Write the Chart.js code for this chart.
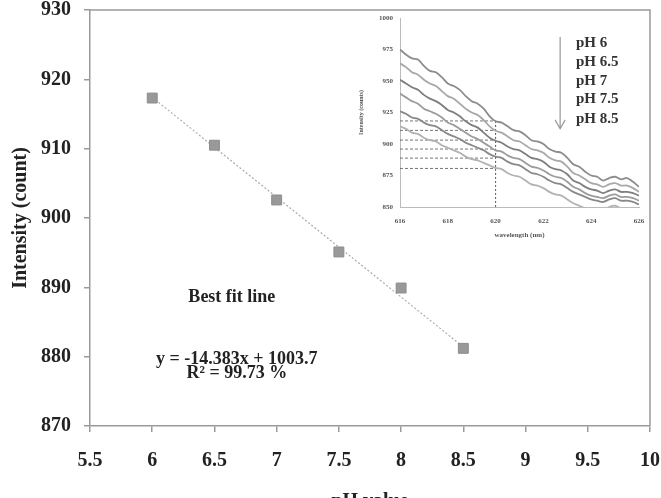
<!DOCTYPE html>
<html>
<head>
<meta charset="utf-8">
<script src="https://cdn.jsdelivr.net/npm/chart.js@4.4.0/dist/chart.umd.min.js"></script>
<style>
html, body { margin: 0; padding: 0; background: #fff; overflow: hidden; }
#wrap { position: relative; width: 661px; height: 498px; overflow: hidden; }
#main { position: absolute; left: 0; top: 0; }
#inset { position: absolute; left: 355px; top: 5px; }
</style>
</head>
<body>
<div id="wrap">
  <canvas id="main" width="661" height="520"></canvas>
  <canvas id="inset" width="292" height="240"></canvas>
</div>
<script>
// main chart: intensity at 620 nm vs pH
var phValues  = [6, 6.5, 7, 7.5, 8, 8.5]
var intensity = [917.3, 910.5, 902.6, 895.1, 889.9, 881.2]
var fitX = [6, 8.5]
var fitY = [917.4, 881.4]

var noteText = ['Best fit line', 'y = -14.383x + 1003.7', 'R\u00b2 = 99.73 %']
var noteX    = [6.64, 6.68, 6.68]
var noteY    = [888.6, 879.6, 877.6]

// inset: spectra around 620 nm
var wavelength = [616, 616.25, 616.5, 616.75, 617, 617.25, 617.5, 617.75, 618, 618.25, 618.5, 618.75,
                  619, 619.25, 619.5, 619.75, 620, 620.25, 620.5, 620.75, 621, 621.25, 621.5, 621.75,
                  622, 622.25, 622.5, 622.75, 623, 623.25, 623.5, 623.75, 624, 624.25, 624.5, 624.75,
                  625, 625.25, 625.5, 625.75, 626]
var spec60 = [975, 971, 968, 967, 962, 958, 957, 953, 948, 946, 943, 938, 934, 932, 928, 922, 918, 917, 914, 911,
              910, 907, 903, 902, 900, 896, 894, 893, 889, 884, 882, 878, 875, 874, 871, 873, 874, 872, 873, 870, 866]
var spec65 = [964, 961, 957, 955, 951, 948, 946, 942, 938, 936, 932, 928, 925, 923, 919, 914, 910.5, 909, 906, 903,
              902, 899, 896, 895, 893, 889, 887, 886, 882, 877, 875, 872, 869, 868, 866, 868, 869, 867, 867, 865, 862]
var spec70 = [951, 948, 945, 943, 939, 936, 934, 931, 927, 925, 922, 918, 915, 913, 909, 905, 902.6, 901, 898, 896,
              895, 892, 889, 888, 886, 882, 880, 879, 876, 871, 869, 866, 864, 863, 861, 863, 864, 862, 862, 861, 859]
var spec75 = [940, 937, 934, 932, 928, 926, 924, 921, 917, 915, 912, 909, 906, 904, 901, 898, 895, 894, 891, 889,
              888, 885, 882, 881, 879, 876, 874, 873, 870, 866, 864, 861, 859, 858, 857, 859, 860, 858, 858, 857, 855]
var spec80 = [926, 924, 921, 920, 917, 915, 914, 911, 908, 906, 904, 901, 899, 897, 895, 892, 890, 889, 886, 884,
              883, 880, 877, 876, 874, 871, 869, 868, 865, 862, 860, 858, 856, 855, 854, 856, 857, 855, 855, 854, 852]
var spec85 = [914, 912, 909, 908, 905, 903, 902, 899, 897, 895, 893, 890, 888, 887, 885, 883, 881, 880, 877, 875,
              874, 871, 868, 867, 865, 862, 860, 859, 856, 853, 851, 849, 848, 847, 847, 850, 851, 849, 849, 848, 846]
var spectra = [spec60, spec65, spec70, spec75, spec80, spec85]
var specColors = ['#8c8c8c', '#a8a8a8', '#7e7e7e', '#9c9c9c', '#888888', '#b2b2b2']

var markerWave  = 620
var markerLevel = [918.3, 910.8, 903.1, 896, 888.8, 880.6]

var insetLabels = ['pH 6', 'pH 6.5', 'pH 7', 'pH 7.5', 'pH 8.5']
var labelWave   = 623.36
var labelLevel  = [980, 965, 950, 935.5, 920]
var arrowWave   = 622.7
var arrowFrom   = 985
var arrowTo     = 912

var serif = 'Liberation Serif, Times New Roman, serif'

function pairs(xs, ys) {
    return xs.map(function (x, i) { return { x: x, y: ys[i] } })
}

// plain numbers on the ticks (6 not 6.0, 1000 not 1,000)
function plain(v) { return String(v) }

// stop chart.js from shrinking the plot area for label overhang
function fixX(h) {
    return function (s) { s.height = h; s.paddingLeft = 0; s.paddingRight = 0 }
}
function fixY(w) {
    return function (s) { s.width = w; s.paddingTop = 0; s.paddingBottom = 0 }
}

// frame round the plot area plus the text notes
var mainExtras = {
    id: 'mainExtras',
    afterDraw: function (chart) {
        var ctx = chart.ctx, a = chart.chartArea
        var sx = chart.scales.x, sy = chart.scales.y
        ctx.save()
        ctx.strokeStyle = '#9a9a9a'
        ctx.lineWidth = 1.5
        ctx.beginPath()
        ctx.moveTo(a.left, a.top)
        ctx.lineTo(a.right, a.top)
        ctx.lineTo(a.right, a.bottom)
        ctx.stroke()
        ctx.fillStyle = '#222'
        ctx.font = 'bold 18px ' + serif
        ctx.textAlign = 'center'
        ctx.textBaseline = 'middle'
        noteText.forEach(function (t, i) {
            ctx.fillText(t, sx.getPixelForValue(noteX[i]), sy.getPixelForValue(noteY[i]))
        })
        ctx.restore()
    }
}

var bigFont = { family: serif, size: 20, weight: 'bold' }

new Chart(document.getElementById('main'), {
    type: 'scatter',
    data: {
        datasets: [
            {
                data: pairs(phValues, intensity),
                pointStyle: 'rect',
                pointRadius: 7,
                backgroundColor: '#999',
                borderColor: '#8c8c8c',
                borderWidth: 1
            },
            {
                data: pairs(fitX, fitY),
                showLine: true,
                borderColor: '#aaa',
                borderWidth: 1.2,
                borderDash: [2, 2],
                pointRadius: 0
            }
        ]
    },
    options: {
        animation: false,
        responsive: false,
        layout: { padding: { top: 10, right: 11, left: 0, bottom: 0 } },
        plugins: { legend: { display: false }, tooltip: { enabled: false } },
        scales: {
            x: {
                type: 'linear', min: 5.5, max: 10,
                ticks: { stepSize: 0.5, padding: 17, color: '#222', font: bigFont, callback: plain },
                grid: { drawOnChartArea: false, tickLength: 6, color: '#9a9a9a', lineWidth: 1.5 },
                border: { color: '#9a9a9a', width: 1.5 },
                title: { display: true, text: 'pH value', color: '#222', padding: { top: 0, bottom: 6 }, font: bigFont },
                afterFit: fixX(94)
            },
            y: {
                min: 870, max: 930,
                ticks: { stepSize: 10, padding: 13, color: '#222', font: bigFont, callback: plain },
                grid: { drawOnChartArea: false, tickLength: 6, color: '#9a9a9a', lineWidth: 1.5 },
                border: { color: '#9a9a9a', width: 1.5 },
                title: { display: true, text: 'Intensity (count)', color: '#222', padding: { top: 9, bottom: 0 }, font: bigFont },
                afterFit: fixY(90)
            }
        }
    },
    plugins: [mainExtras]
})

// inset: pH labels and the arrow
var insetExtras = {
    id: 'insetExtras',
    afterDraw: function (chart) {
        var ctx = chart.ctx
        var sx = chart.scales.x, sy = chart.scales.y
        ctx.save()
        ctx.fillStyle = '#333'
        ctx.font = 'bold 15px ' + serif
        ctx.textAlign = 'left'
        ctx.textBaseline = 'middle'
        insetLabels.forEach(function (t, i) {
            ctx.fillText(t, sx.getPixelForValue(labelWave), sy.getPixelForValue(labelLevel[i]))
        })
        var ax = sx.getPixelForValue(arrowWave)
        var y0 = sy.getPixelForValue(arrowFrom), y1 = sy.getPixelForValue(arrowTo)
        ctx.strokeStyle = '#999'
        ctx.lineWidth = 1.2
        ctx.beginPath()
        ctx.moveTo(ax, y0)
        ctx.lineTo(ax, y1)
        ctx.moveTo(ax - 5, y1 - 9)
        ctx.lineTo(ax, y1)
        ctx.lineTo(ax + 5, y1 - 9)
        ctx.stroke()
        ctx.restore()
    }
}

var insetSets = spectra.map(function (s, i) {
    return {
        data: pairs(wavelength, s),
        showLine: true,
        borderColor: specColors[i],
        borderWidth: 1.8,
        pointRadius: 0,
        tension: 0.35
    }
})
markerLevel.forEach(function (v) {
    insetSets.push({
        data: [{ x: wavelength[0], y: v }, { x: markerWave, y: v }],
        showLine: true, borderColor: '#666', borderWidth: 0.9, borderDash: [3, 2], pointRadius: 0
    })
})
insetSets.push({
    data: [{ x: markerWave, y: markerLevel[0] }, { x: markerWave, y: 850 }],
    showLine: true, borderColor: '#555', borderWidth: 1, borderDash: [2, 2], pointRadius: 0
})

var smallFont = { family: serif, size: 7, weight: 'bold' }

new Chart(document.getElementById('inset'), {
    type: 'scatter',
    data: { datasets: insetSets },
    options: {
        animation: false,
        responsive: false,
        layout: { padding: { top: 13, right: 8, left: 0, bottom: 0 } },
        plugins: { legend: { display: false }, tooltip: { enabled: false } },
        scales: {
            x: {
                type: 'linear', min: 616, max: 626,
                ticks: { stepSize: 2, padding: 10, color: '#555', font: smallFont, callback: plain },
                grid: { drawOnChartArea: false, drawTicks: false },
                border: { color: '#bbb' },
                title: { display: true, text: 'wavelength (nm)', color: '#555', padding: { top: 0, bottom: 6 }, font: smallFont },
                afterFit: fixX(38)
            },
            y: {
                min: 850, max: 1000,
                ticks: { stepSize: 25, padding: 7, color: '#555', font: smallFont, callback: plain },
                grid: { drawOnChartArea: false, drawTicks: false },
                border: { color: '#bbb' },
                title: { display: true, text: 'Intensity (counts)', color: '#555', padding: { top: 3, bottom: 0 }, font: { family: serif, size: 6, weight: 'bold' } },
                afterFit: fixY(45)
            }
        }
    },
    plugins: [insetExtras]
})
</script>
</body>
</html>
